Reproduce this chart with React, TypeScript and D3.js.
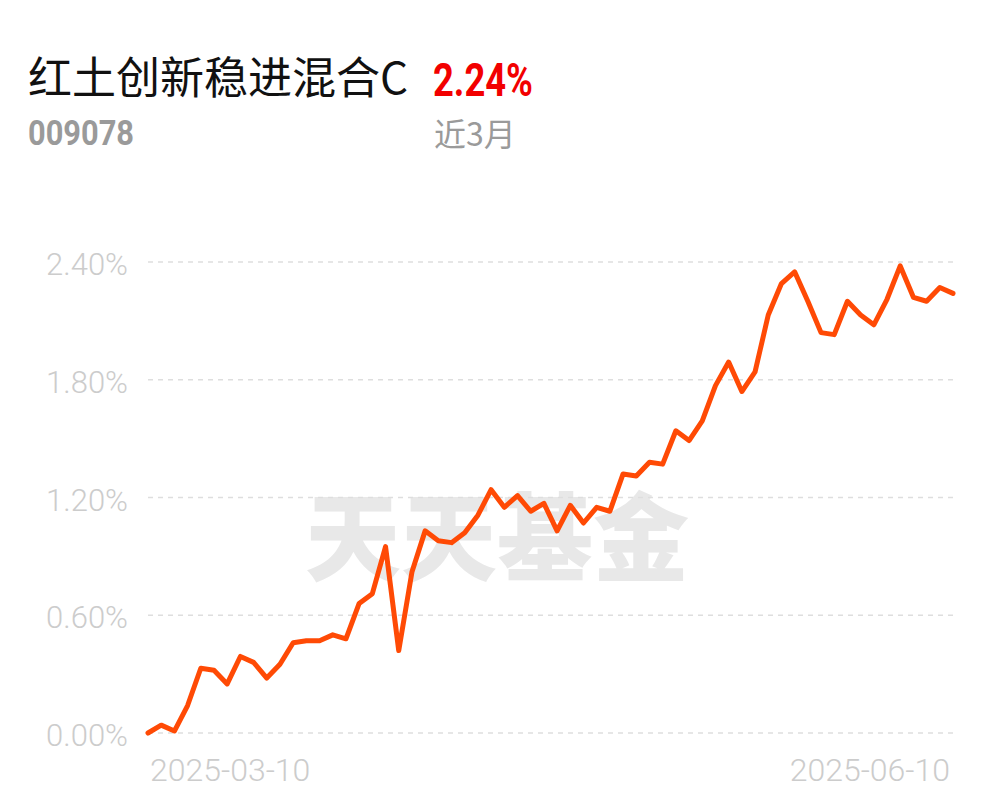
import React from "react";
import * as d3 from "d3";

const title = "红土创新稳进混合C";
const code = "009078";
const changeText = "2.24%";
const periodText = "近3月";
const watermark = "天天基金";

const values: number[] = [
  0.0, 0.04, 0.01, 0.14, 0.33, 0.32, 0.25, 0.39, 0.36, 0.28,
  0.35, 0.46, 0.47, 0.47, 0.5, 0.48, 0.66, 0.71, 0.95, 0.42,
  0.82, 1.03, 0.98, 0.97, 1.02, 1.11, 1.24, 1.15, 1.21, 1.13,
  1.17, 1.03, 1.16, 1.07, 1.15, 1.13, 1.32, 1.31, 1.38, 1.37,
  1.54, 1.49, 1.59, 1.77, 1.89, 1.74, 1.84, 2.13, 2.29, 2.35,
  2.2, 2.04, 2.03, 2.2, 2.13, 2.08, 2.21, 2.38, 2.22, 2.2,
  2.27, 2.24,
];

const yTicks: number[] = [0, 0.6, 1.2, 1.8, 2.4];
const xTickLabels: string[] = ["2025-03-10", "2025-06-10"];

export default function App() {
  const W = 997;
  const H = 802;
  const x = d3.scaleLinear().domain([0, values.length - 1]).range([148, 953]);
  const y = d3.scaleLinear().domain([0, 2.4]).range([733, 262]);
  const line = d3
    .line<number>()
    .x((_, i) => x(i))
    .y((d) => y(d))
    .curve(d3.curveLinear);

  const sans = "Roboto, 'Noto Sans', sans-serif";
  const cjk = "'Noto Sans CJK SC', 'Noto Sans', sans-serif";

  return (
    <svg
      width={W}
      height={H}
      style={{ position: "absolute", left: 0, top: 0, background: "#fff" }}
    >
      <rect x={0} y={0} width={W} height={H} fill="#fff" />
      {/* header */}
      <text x={28} y={94} fontFamily={cjk} fontSize={44} fill="#111">
        {title}
      </text>
      <text
        x={433}
        y={96}
        fontFamily={sans}
        fontWeight={700}
        fontSize={46}
        fill="#f20000"
        textLength={100}
        lengthAdjust="spacingAndGlyphs"
      >
        {changeText}
      </text>
      <text
        x={28}
        y={145}
        fontFamily={sans}
        fontWeight={700}
        fontSize={35}
        fill="#9a9a9a"
        textLength={106}
        lengthAdjust="spacingAndGlyphs"
      >
        {code}
      </text>
      <text x={434} y={146} fontFamily={cjk} fontSize={32} fill="#9a9a9a">
        {periodText}
      </text>

      {/* watermark */}
      <text
        x={305}
        y={573}
        fontFamily={cjk}
        fontWeight={900}
        fontSize={96}
        fill="#e8e8e8"
      >
        {watermark}
      </text>

      {/* grid */}
      {yTicks.map((t) => (
        <g key={t}>
          <line
            x1={148}
            x2={953}
            y1={y(t)}
            y2={y(t)}
            stroke="#dedede"
            strokeWidth={1.5}
            strokeDasharray="5,5"
          />
          <text
            x={128}
            y={y(t) + 13}
            textAnchor="end"
            fontFamily={sans}
            fontWeight={300}
            fontSize={31}
            fill="#cccccc"
          >
            {t.toFixed(2) + "%"}
          </text>
        </g>
      ))}

      {/* x labels */}
      <text
        x={x(0) + 2}
        y={781}
        textAnchor="start"
        fontFamily={sans}
        fontWeight={300}
        fontSize={32}
        fill="#cccccc"
      >
        {xTickLabels[0]}
      </text>
      <text
        x={x(values.length - 1) - 3}
        y={781}
        textAnchor="end"
        fontFamily={sans}
        fontWeight={300}
        fontSize={32}
        fill="#cccccc"
      >
        {xTickLabels[1]}
      </text>

      {/* line */}
      <path
        d={line(values) || ""}
        fill="none"
        stroke="#ff4a05"
        strokeWidth={5}
        strokeLinejoin="round"
        strokeLinecap="round"
      />
    </svg>
  );
}
